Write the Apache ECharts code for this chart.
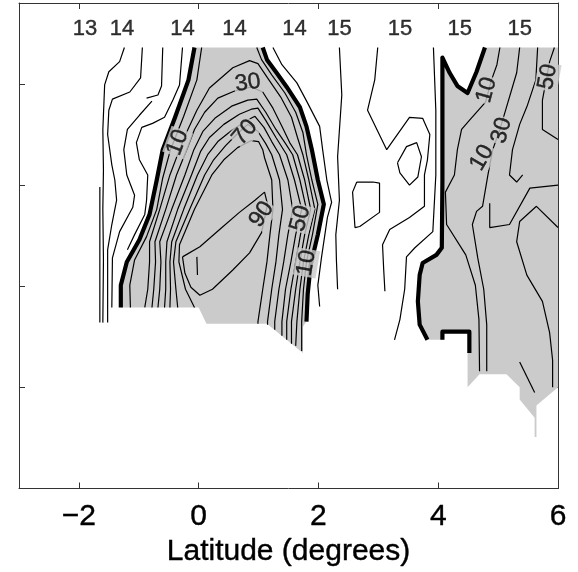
<!DOCTYPE html>
<html>
<head>
<meta charset="utf-8">
<script src="https://cdn.jsdelivr.net/npm/echarts@6/dist/echarts.min.js"></script>
<style>
html,body{margin:0;padding:0;background:#fff}
#chart{width:578px;height:572px}
</style>
</head>
<body>
<div id="chart"></div>
<script>
// Axis ticks
const latTicks = [-2, 0, 2, 4, 6];
const latTicksTop = [-2, 0, 2, 4];

// Station numbers written along the top
const stationLat = [-1.90, -1.28, -0.27, 0.60, 1.60, 2.35, 3.36, 4.36, 5.36];
const stationText = ['13', '14', '14', '14', '14', '15', '15', '15', '15'];
const stationY = 454;

// Zero contour (thick) [latitude, height]
const zeroWestA = [[-0.07,436],[-0.17,404],[-0.40,366],[-0.60,335],[-0.70,305],[-0.82,271],[-0.99,246],[-1.20,224],[-1.30,201],[-1.30,179]];
const zeroWestB = [[1.07,436],[1.14,424],[1.30,411],[1.47,397],[1.69,377],[1.80,358],[1.89,335],[1.99,305],[2.09,281],[1.99,251],[1.87,221],[1.82,192],[1.80,165]];
const zeroEast = [[4.78,436],[4.64,412],[4.49,391],[4.32,398],[4.19,411],[4.07,426],[4.07,305],[4.06,238],[3.97,231],[3.74,223],[3.69,211],[3.66,185],[3.69,162],[3.82,147]];
const zeroNotch = [[4.07,147],[4.07,155],[4.52,155],[4.52,134]];

// Lower edge of the sampled area under each positive patch
const westFloor = [[0,179],[0.13,163],[1.14,163],[1.74,134],[1.74,160]];
const eastFloor = [[4.07,147],[4.07,155],[4.52,155],[4.52,135],[4.49,135],[4.49,100],[4.69,113],[5.14,113],[5.36,100],[5.36,88],[5.61,70],[5.61,51],[5.64,51],[5.64,82],[6.0,100],[6.0,436]];

// Thin contours, west of the first patch
const w0 = [[-1.65,298],[-1.65,164]];
const w1 = [[-1.24,436],[-1.32,422],[-1.50,412],[-1.57,399],[-1.60,355],[-1.59,315],[-1.60,276],[-1.59,226],[-1.60,164]];
const w2 = [[-0.94,436],[-0.97,406],[-1.15,392],[-1.44,385],[-1.50,374],[-1.52,350],[-1.45,320],[-1.40,305],[-1.37,285],[-1.45,261],[-1.52,236],[-1.52,164]];
const w3 = [[-0.60,436],[-0.62,398],[-0.68,389],[-0.87,386]];
const w3b = [[-0.78,383],[-0.99,369],[-1.19,355],[-1.25,335],[-1.20,310],[-1.07,290],[-1.10,278],[-1.32,254],[-1.44,228],[-1.45,179]];
const w4 = [[-0.27,436],[-0.32,399],[-0.43,384],[-0.57,367],[-0.77,361],[-0.95,357],[-1.04,342],[-0.99,325],[-0.85,310],[-0.87,285],[-0.90,271],[-1.07,251],[-1.19,236]];

// Thin contours inside the first patch
const c10w = [[0.05,436],[-0.03,404],[-0.25,368],[-0.47,335],[-0.60,307],[-0.70,276],[-0.87,249],[-1.07,226],[-1.15,201],[-1.14,179]];
const c10e = [[0.97,436],[1.05,424],[1.22,409],[1.44,391],[1.62,372],[1.74,352],[1.80,330],[1.89,305],[1.99,281],[1.90,251],[1.80,224],[1.75,197],[1.72,165],[1.72,136]];
const c20 = [[-0.90,179],[-0.85,197],[-0.82,224],[-0.82,244],[-0.65,276],[-0.48,310],[-0.32,335],[-0.18,355],[-0.03,374],[0.18,396],[0.57,416],[0.85,423],[0.99,420],[1.15,406],[1.37,387],[1.55,367],[1.65,347],[1.74,330],[1.84,305],[1.94,276],[1.84,251],[1.75,224],[1.69,197],[1.64,165],[1.62,141]];
const c30 = [[-0.78,179],[-0.75,197],[-0.72,224],[-0.73,244],[-0.55,276],[-0.37,310],[-0.20,335],[-0.07,355],[0.10,372],[0.32,386],[0.60,393],[0.88,397],[1.07,392],[1.24,376],[1.40,357],[1.52,342],[1.65,330],[1.77,305],[1.87,276],[1.77,251],[1.69,224],[1.62,197],[1.55,165],[1.55,143]];
const c40 = [[-0.68,179],[-0.65,197],[-0.63,224],[-0.65,244],[-0.45,276],[-0.23,310],[-0.08,335],[0.07,353],[0.27,366],[0.55,378],[0.82,384],[0.97,385],[1.12,372],[1.29,355],[1.44,342],[1.57,330],[1.69,305],[1.80,276],[1.70,251],[1.62,224],[1.54,197],[1.47,165],[1.47,147]];
const c50 = [[-0.57,179],[-0.55,197],[-0.55,224],[-0.53,244],[-0.35,276],[-0.12,310],[0.03,333],[0.18,347],[0.42,360],[0.68,370],[0.88,375],[0.99,376],[1.12,364],[1.29,347],[1.47,330],[1.60,305],[1.72,276],[1.62,251],[1.54,224],[1.45,197],[1.39,165],[1.39,151]];
const c60 = [[-0.48,179],[-0.47,197],[-0.48,224],[-0.45,244],[-0.25,276],[-0.02,310],[0.15,330],[0.32,343],[0.55,354],[0.78,363],[0.94,368],[1.09,357],[1.22,343],[1.35,330],[1.49,305],[1.57,276],[1.49,251],[1.42,224],[1.34,197],[1.27,165],[1.27,157]];
const c70 = [[-0.35,179],[-0.38,197],[-0.42,224],[-0.38,244],[-0.15,276],[0.10,310],[0.25,325],[0.45,339],[0.65,351],[0.82,360],[0.99,353],[1.12,341],[1.22,330],[1.35,305],[1.40,276],[1.34,251],[1.29,224],[1.22,197],[1.15,165],[1.15,162]];
const c80 = [[-0.07,179],[-0.22,197],[-0.33,224],[-0.32,241],[-0.07,276],[0.22,310],[0.42,325],[0.65,337],[0.88,344],[1.00,343],[1.07,335],[1.10,327],[1.22,305],[1.24,276],[1.19,251],[1.14,224],[1.07,197],[0.99,165],[0.99,163]];
const c90 = [[-0.27,229],[0.02,239],[0.35,256],[0.68,273],[0.94,285],[1.10,293],[1.15,281],[1.05,253],[0.85,233],[0.57,216],[0.23,197],[0.02,191],[-0.13,199],[-0.23,213],[-0.27,229]];
const c100 = [[-0.03,229],[-0.02,211]];

// Thin contours between the two patches
const mid1 = [[1.24,436],[1.39,419],[1.64,401],[1.82,381],[2.02,358],[2.07,335],[2.14,305],[2.22,283],[2.15,268],[2.05,228],[1.99,201],[2.02,180]];
const mid2 = [[2.35,436],[2.39,389],[2.32,328],[2.35,285],[2.29,251],[2.30,226],[2.32,197]];
const mid3 = [[2.99,436],[2.94,404],[2.82,374],[3.14,335],[3.52,367],[3.74,366],[3.86,350],[3.82,325],[3.77,310],[3.77,279],[3.52,268],[3.19,256],[3.07,241],[3.09,216],[3.11,195]];
const mid4 = [[3.92,436],[3.96,374],[3.96,310],[3.91,254],[3.61,238],[3.47,229],[3.44,197],[3.36,167],[3.27,147]];
const midLoopA = [[3.32,322],[3.47,338],[3.64,342],[3.72,328],[3.66,308],[3.52,300],[3.36,312],[3.32,322]];
const midLoopB = [[2.64,303],[2.91,303],[3.02,302],[3.02,273],[2.69,259],[2.61,258],[2.57,293],[2.64,303]];

// Thin contours inside the eastern patch
const e1 = [[5.03,436],[4.98,419],[4.89,404],[4.79,382],[4.52,364],[4.39,355],[4.32,335],[4.27,310],[4.12,293],[4.14,261],[4.46,231],[4.62,201],[4.68,167],[4.69,116]];
const e2 = [[5.36,436],[5.31,411],[5.14,377],[5.03,355],[4.91,335],[4.83,310],[4.74,279],[4.64,274],[4.57,261],[4.66,228],[4.76,197],[4.81,162],[4.81,116]];
const e3 = [[5.66,436],[5.63,404],[5.49,379],[5.36,360],[5.24,335],[5.19,310],[5.31,303],[5.41,310]];
const e4 = [[6.0,258],[5.64,279],[5.36,264],[5.31,244],[5.48,211],[5.74,185],[5.86,154],[5.91,127],[5.91,100]];
const e5 = [[5.94,436],[5.86,422],[5.74,384],[5.74,355],[6.0,345]];
const e6 = [[6.0,300],[5.53,297],[5.19,261],[4.86,258],[4.86,282]];
const e7 = [[5.36,125],[5.61,95]];

// Contour level labels
const levelLat = [-0.35, 0.82, 0.77, 1.05, 1.70, 1.80, 4.81, 5.06, 4.73, 5.83];
const levelY = [342, 401, 352, 271, 267, 223, 394, 354, 327, 407];
const levelText = ['10', '30', '70', '90', '50', '10', '10', '30', '10', '50'];
const levelAngle = [70, 8, 50, 55, 75, 80, 75, 75, 60, 80];

const zeroLines = [zeroWestA, zeroWestB, zeroEast, zeroNotch];
const thinLines = [w0, w1, w2, w3, w3b, w4, c10w, c10e, c20, c30, c40, c50, c60, c70, c80, c90, c100,
  mid1, mid2, mid3, mid4, midLoopA, midLoopB, e1, e2, e3, e4, e5, e6, e7];

const shadePolys = [
  zeroWestA.concat(westFloor, zeroWestB.slice().reverse()),
  zeroEast.concat(eastFloor)
];

const FONT = '"Liberation Sans", Arial, Helvetica, sans-serif';
const SHADE = '#cbcbcb';
const FRAME = '#333';
const INK = {color: '#000', textBorderColor: '#000', textBorderWidth: 0.4};

const chart = echarts.init(document.getElementById('chart'), null, {renderer: 'canvas'});

const series = [];
series.push({
  type: 'custom',
  coordinateSystem: 'cartesian2d',
  silent: true,
  z: 1,
  data: shadePolys.map((p, i) => [0, 0, i]),
  renderItem: function (params, api) {
    const poly = shadePolys[api.value(2)];
    return {
      type: 'polygon',
      shape: {points: poly.map(p => api.coord(p))},
      style: {fill: SHADE, stroke: null}
    };
  }
});
thinLines.forEach(l => series.push({
  type: 'line', data: l, showSymbol: false, silent: true, z: 3,
  lineStyle: {color: '#000', width: 1.2}
}));
zeroLines.forEach(l => series.push({
  type: 'line', data: l, showSymbol: false, silent: true, z: 4,
  lineStyle: {color: '#000', width: 4.2, join: 'round'}
}));
series.push({
  type: 'scatter', symbolSize: 0, silent: true, z: 6,
  data: levelLat.map((x, i) => [x, levelY[i], i]),
  label: Object.assign({
    show: true, position: 'inside',
    formatter: p => levelText[p.data[2]],
    fontSize: 23, fontFamily: FONT,
    backgroundColor: SHADE, padding: [0, 1]
  }, INK),
  labelLayout: function (params) {
    return {rotate: levelAngle[params.dataIndex]};
  }
});
series.push({
  type: 'scatter', symbolSize: 0, silent: true, z: 6,
  data: stationLat.map((x, i) => [x, stationY, i]),
  label: Object.assign({
    show: true, position: 'inside',
    formatter: p => stationText[p.data[2]],
    fontSize: 22, fontFamily: FONT
  }, INK)
});

const fmtLat = v => (v < 0 ? '\u2212' + Math.abs(v) : String(v));
const frameLine = {show: true, onZero: false, lineStyle: {color: FRAME, width: 1}};

chart.setOption({
  animation: false,
  backgroundColor: '#fff',
  grid: {left: 19, top: 3, width: 539, height: 486, containLabel: false},
  xAxis: [{
    type: 'value', min: -3, max: 6, position: 'bottom',
    axisLine: frameLine,
    axisTick: {show: true, inside: true, length: 6, customValues: latTicks, lineStyle: {color: FRAME}},
    axisLabel: Object.assign({show: true, customValues: latTicks, formatter: fmtLat, fontSize: 30, fontFamily: FONT, margin: 13}, INK),
    splitLine: {show: false},
    name: 'Latitude (degrees)', nameLocation: 'middle', nameGap: 42,
    nameTextStyle: Object.assign({fontSize: 30, fontFamily: FONT}, INK)
  }, {
    type: 'value', min: -3, max: 6, position: 'top',
    axisLine: frameLine,
    axisTick: {show: true, inside: true, length: 6, customValues: latTicksTop, lineStyle: {color: FRAME}},
    axisLabel: {show: false},
    splitLine: {show: false}
  }],
  yAxis: [{
    type: 'value', min: 0, max: 480, interval: 100, position: 'left',
    axisLine: frameLine,
    axisTick: {show: true, inside: true, length: 6, lineStyle: {color: FRAME}},
    axisLabel: {show: false},
    splitLine: {show: false}
  }, {
    type: 'value', min: 0, max: 480, interval: 100, position: 'right',
    axisLine: frameLine,
    axisTick: {show: true, inside: true, length: 6, lineStyle: {color: FRAME}},
    axisLabel: {show: false},
    splitLine: {show: false}
  }],
  series: series
});
</script>
</body>
</html>
